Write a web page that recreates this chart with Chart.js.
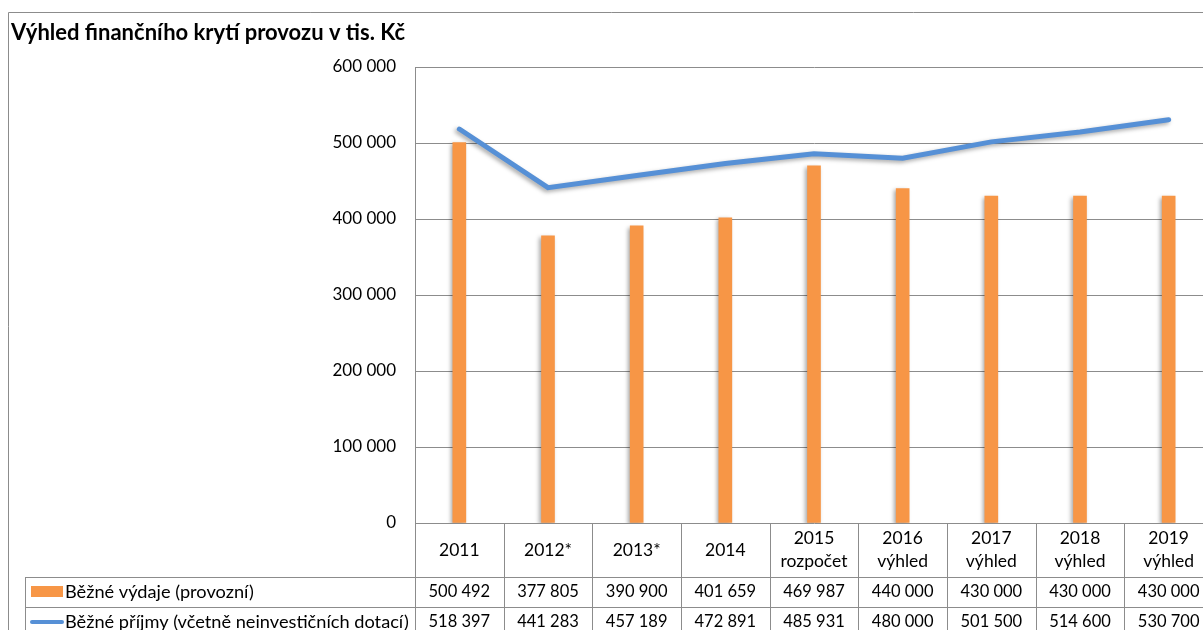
<!DOCTYPE html>
<html>
<head>
<meta charset="utf-8">
<script src="https://cdn.jsdelivr.net/npm/chart.js@4.4.1/dist/chart.umd.min.js"></script>
<style>
  html, body { margin: 0; padding: 0; background: #fff; overflow: hidden; }
  #wrap { width: 1215px; height: 640px; }
</style>
</head>
<body>
<div id="wrap"><canvas id="c" width="1215" height="640"></canvas></div>
<script>
const title = 'Výhled finančního krytí provozu v tis. Kč';
const categories = [['2011'], ['2012*'], ['2013*'], ['2014'], ['2015', 'rozpočet'], ['2016', 'výhled'], ['2017', 'výhled'], ['2018', 'výhled'], ['2019', 'výhled']];
const expenseLabel = 'Běžné výdaje (provozní)';
const expenses = [500492, 377805, 390900, 401659, 469987, 440000, 430000, 430000, 430000];
const revenueLabel = 'Běžné příjmy (včetně neinvestičních dotací)';
const revenues = [518397, 441283, 457189, 472891, 485931, 480000, 501500, 514600, 530700];
const yMax = 600000;
const yStep = 100000;

const FONT = 'Lato, "Open Sans", sans-serif';
const ORANGE = '#f79646';
const BLUE = '#5690d6';
const GRID = '#8c8c8c';

const fmt = n => String(n).replace(/\B(?=(\d{3})+(?!\d))/g, ' ');

// soft shadows under bars and line, like the office original
const shadowPlugin = {
  id: 'shadow',
  beforeDatasetDraw(chart) {
    const ctx = chart.ctx;
    ctx.save();
    ctx.shadowColor = 'rgba(0,0,0,0.35)';
    ctx.shadowBlur = 4;
    ctx.shadowOffsetX = -2;
    ctx.shadowOffsetY = 2;
  },
  afterDatasetDraw(chart) {
    chart.ctx.restore();
  }
};

// title, outer frame and the data table under the plot
const tablePlugin = {
  id: 'table',
  afterDraw(chart) {
    const ctx = chart.ctx;
    const area = chart.chartArea;
    const x = chart.scales.x;
    const W = chart.width, H = chart.height;
    const half = (x.getPixelForValue(1) - x.getPixelForValue(0)) / 2;
    const rowTop = area.bottom + 54;
    const rowH = 30;

    ctx.save();
    ctx.strokeStyle = GRID;
    ctx.lineWidth = 1;

    // frame
    ctx.beginPath();
    ctx.moveTo(8.5, H); ctx.lineTo(8.5, 12.5); ctx.lineTo(W, 12.5);
    ctx.stroke();

    // table lines
    ctx.beginPath();
    for (let r = 0; r < 3; r++) {
      const y = Math.round(rowTop + r * rowH) + 0.5;
      ctx.moveTo(25, y); ctx.lineTo(area.right, y);
    }
    ctx.moveTo(25.5, rowTop); ctx.lineTo(25.5, H);
    for (let i = 0; i <= categories.length; i++) {
      const px = Math.round(x.getPixelForValue(0) - half + i * 2 * half) + 0.5;
      ctx.moveTo(px, area.bottom); ctx.lineTo(px, H);
    }
    ctx.stroke();

    // title
    ctx.fillStyle = '#000';
    ctx.font = 'bold 22px ' + FONT;
    ctx.textAlign = 'left';
    ctx.textBaseline = 'middle';
    ctx.fillText(title, 11, 33);

    // category labels
    ctx.font = '17.5px ' + FONT;
    ctx.textAlign = 'center';
    categories.forEach((c, i) => {
      const cx = x.getPixelForValue(i);
      if (c.length === 1) {
        ctx.fillText(c[0], cx, area.bottom + 27);
      } else {
        ctx.fillText(c[0], cx, area.bottom + 15);
        ctx.fillText(c[1], cx, area.bottom + 38);
      }
    });

    // values
    ctx.font = '16.5px ' + FONT;
    [expenses, revenues].forEach((vals, r) => {
      const cy = rowTop + r * rowH + rowH / 2;
      vals.forEach((v, i) => ctx.fillText(fmt(v), x.getPixelForValue(i), cy));
    });

    // legend keys
    ctx.font = '18.2px ' + FONT;
    ctx.textAlign = 'left';
    let cy = rowTop + rowH / 2;
    ctx.fillStyle = ORANGE;
    ctx.fillRect(31, cy - 6, 32, 11);
    ctx.fillStyle = '#000';
    ctx.fillText(expenseLabel, 65, cy);

    cy = rowTop + rowH * 1.5;
    ctx.strokeStyle = BLUE;
    ctx.lineWidth = 4;
    ctx.lineCap = 'round';
    ctx.beginPath();
    ctx.moveTo(32, cy); ctx.lineTo(62, cy);
    ctx.stroke();
    ctx.fillText(revenueLabel, 65, cy);
    ctx.restore();
  }
};

new Chart(document.getElementById('c'), {
  type: 'bar',
  data: {
    labels: categories.map(c => c.join(' ')),
    datasets: [
      {
        type: 'line',
        label: revenueLabel,
        data: revenues,
        borderColor: BLUE,
        borderWidth: 5,
        borderCapStyle: 'round',
        pointRadius: 0,
        tension: 0,
        order: 0
      },
      {
        type: 'bar',
        label: expenseLabel,
        data: expenses,
        backgroundColor: ORANGE,
        barThickness: 13,
        order: 1
      }
    ]
  },
  options: {
    responsive: false,
    animation: false,
    events: [],
    layout: { padding: { top: 67, bottom: 640 - 523, right: 2, left: 0 } },
    plugins: { legend: { display: false }, tooltip: { enabled: false } },
    scales: {
      x: { display: false, offset: true },
      y: {
        min: 0,
        max: yMax,
        afterFit: s => { s.width = 415; },
        ticks: {
          stepSize: yStep,
          padding: 19,
          color: '#000',
          font: { family: FONT, size: 17 },
          callback: v => fmt(v)
        },
        grid: { color: GRID, drawTicks: false },
        border: { color: GRID }
      }
    }
  },
  plugins: [shadowPlugin, tablePlugin]
});
</script>
</body>
</html>
